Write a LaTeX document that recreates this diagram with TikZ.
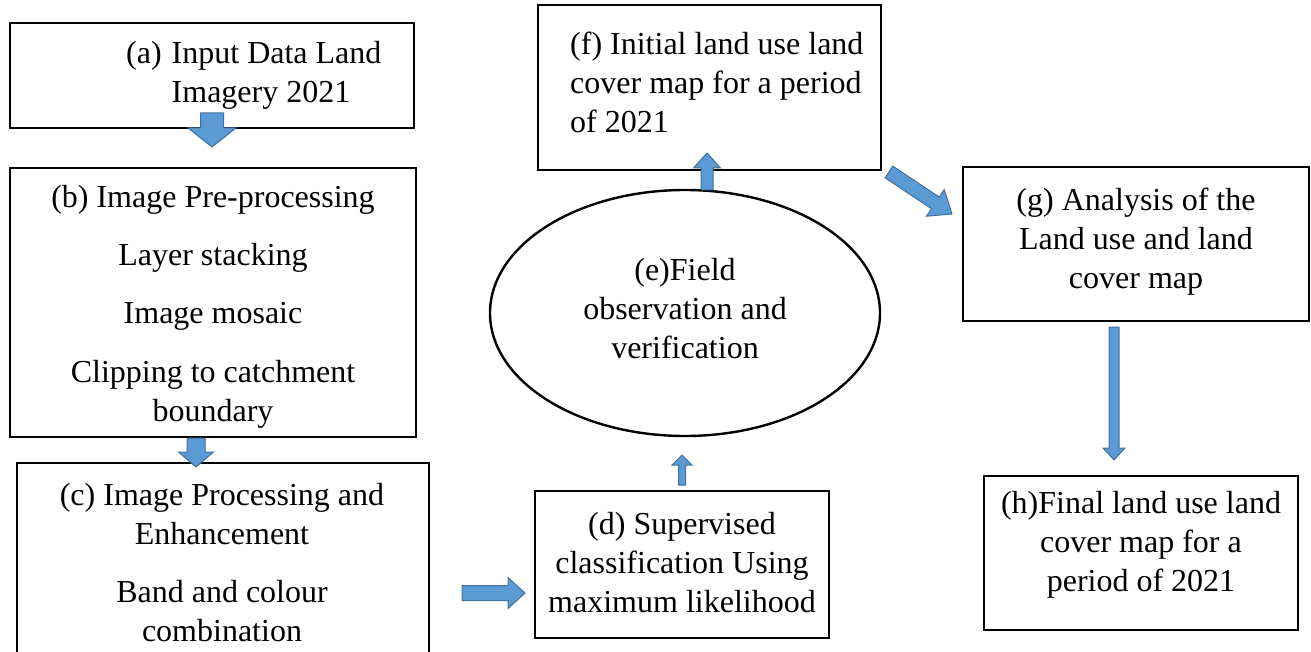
\documentclass[tikz,border=0pt]{standalone}
\usepackage{fontspec}
\setmainfont{Liberation Serif}
\usetikzlibrary{shapes.geometric,calc}
\definecolor{arrfill}{HTML}{5B9BD5}
\definecolor{arrline}{HTML}{41719C}
\tikzset{
  box/.style={draw=black, line width=2.6pt, rectangle, inner sep=0pt},
  txt/.style={inner sep=0pt, align=center, font=\fontsize{32}{39}\selectfont},
  barr/.style={fill=arrfill, draw=arrline, line width=1pt, line join=miter},
}
% #1 start, #2 tip, #3 shaft half width, #4 head half width, #5 head length
\newcommand\blockarr[5]{%
  \filldraw[barr] let \p1=(#1), \p2=(#2),
     \n1={atan2(\y2-\y1,\x2-\x1)}, \n2={veclen(\x2-\x1,\y2-\y1)} in
     [shift={(\p1)}, rotate=\n1]
     (0,-#3) -- ({\n2-#5},-#3) -- ({\n2-#5},-#4) -- ({\n2},0)
     -- ({\n2-#5},#4) -- ({\n2-#5},#3) -- (0,#3) -- cycle;}
\begin{document}
\begin{tikzpicture}[x=1pt,y=-1pt]
\path[use as bounding box] (0,0) rectangle (1311,652);
\clip (0,0) rectangle (1311,652);
% boxes
\node[box, minimum width=404pt, minimum height=105pt] (a) at (212,75.5) {};
\node[box, minimum width=406pt, minimum height=269pt] (b) at (213,302.5) {};
\node[box, minimum width=412pt, minimum height=204pt] (c) at (223,565) {};
\node[box, minimum width=294pt, minimum height=147pt] (d) at (682,564.5) {};
\node[box, ellipse, line width=2.4pt, minimum width=390pt, minimum height=246pt] (e) at (685,313) {};
\node[box, minimum width=343pt, minimum height=165pt] (f) at (709.5,87.5) {};
\node[box, minimum width=346pt, minimum height=154pt] (g) at (1136,244) {};
\node[box, minimum width=314pt, minimum height=154pt] (h) at (1141,553) {};
% texts
\node[txt, anchor=west] (ta) at (126,75) {\begin{tabular}{@{}l@{\hspace{10pt}}l@{}}(a)&Input Data Land\\&Imagery 2021\end{tabular}};
\node[txt] (tb) at (213,307) {(b) Image Pre-processing\\[19pt]Layer stacking\\[19pt]Image mosaic\\[20pt]Clipping to catchment\\boundary};
\node[txt] (tc) at (222,563) {(c) Image Processing and\\Enhancement\\[19pt]Band and colour\\combination};
\node[txt] (td) at (682,563) {(d) Supervised\\classification Using\\maximum likelihood};
\node[txt] (te) at (685,309) {(e)Field\\observation and\\verification};
\node[txt, anchor=west, align=left] (tf) at (570,82) {(f) Initial land use land\\cover map for a period\\of 2021};
\node[txt] (tg) at (1136,242) {(g) Analysis of the\\Land use and land\\cover map};
\node[txt] (th) at (1141,545) {(h)Final land use land\\cover map for a\\period of 2021};
% connector end points
\coordinate (ab1) at (212,113); \coordinate (ab2) at (212,147);
\coordinate (bc1) at (196,438); \coordinate (bc2) at (196,467);
\coordinate (cd1) at (462,593); \coordinate (cd2) at (525,593);
\coordinate (de1) at (682,485); \coordinate (de2) at (682,455);
\coordinate (ef1) at (707,190); \coordinate (ef2) at (707,153);
\coordinate (fg1) at (889,172); \coordinate (fg2) at (952,214);
\coordinate (gh1) at (1114,327); \coordinate (gh2) at (1114,460);
% block arrows
\blockarr{ab1}{ab2}{11.5}{24}{19}
\blockarr{bc1}{bc2}{9}{17.5}{15}
\blockarr{cd1}{cd2}{7.5}{15.5}{17}
\blockarr{de1}{de2}{3.5}{10}{10}
\blockarr{ef1}{ef2}{6}{13.5}{15}
\blockarr{fg1}{fg2}{7}{16}{20}
\blockarr{gh1}{gh2}{5}{11}{12}
\end{tikzpicture}
\end{document}
